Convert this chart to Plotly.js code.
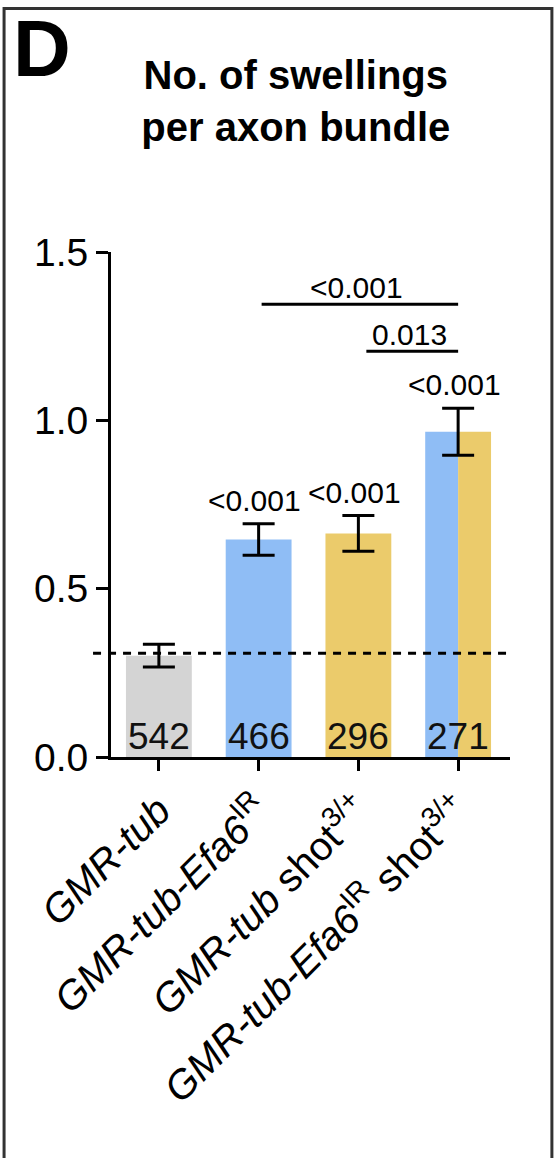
<!DOCTYPE html>
<html>
<head>
<meta charset="utf-8">
<script src="https://cdn.plot.ly/plotly-3.0.1.min.js"></script>
<style>
  html, body { margin: 0; padding: 0; background: #ffffff; }
  #chart { width: 556px; height: 1158px; }
</style>
</head>
<body>
<div id="chart"></div>
<script>
// ---- data ----
const categories = [
  "<i>GMR-tub</i>",
  "<i>GMR-tub-Efa6</i><sup>IR</sup>",
  "<i>GMR-tub</i> shot<sup>3/+</sup>",
  "<i>GMR-tub-Efa6</i><sup>IR</sup> shot<sup>3/+</sup>"
];
const means = [0.301, 0.646, 0.664, 0.966];
const sem = [0.034, 0.047, 0.053, 0.070];
const counts = ["542", "466", "296", "271"];
const pVsControl = ["", "<0.001", "<0.001", "<0.001"];
const controlLevel = 0.308;
const bracketFrom = [1, 2];
const bracketTo = [3, 3];
const bracketLevel = [1.345, 1.205];
const bracketP = ["<0.001", "0.013"];
const yTicks = [0, 0.5, 1.0, 1.5];
const yTickText = ["0.0", "0.5", "1.0", "1.5"];

// ---- styles ----
const FONT = "Arial, 'Liberation Sans', Helvetica, sans-serif";
const GRAY = "#d4d4d4", BLUE = "#8fbdf5", YELLOW = "#ebcb6b";
const barColors = [GRAY, BLUE, YELLOW, BLUE];
const idx = categories.map((_, i) => i);
const BW = 0.66;

const traces = [
  {
    type: "bar", x: idx, y: means,
    width: [BW, BW, BW, BW / 2],
    offset: [-BW / 2, -BW / 2, -BW / 2, -BW / 2],
    marker: { color: barColors, line: { width: 0 } },
    hoverinfo: "none"
  },
  {
    type: "bar", x: [idx[3]], y: [means[3]],
    width: [BW / 2], offset: [0],
    marker: { color: YELLOW, line: { width: 0 } },
    hoverinfo: "none"
  },
  {
    type: "scatter", mode: "markers", x: idx, y: means,
    marker: { size: 1, color: "rgba(0,0,0,0)" },
    error_y: { type: "data", array: sem, visible: true, color: "#000", thickness: 3, width: 16 },
    hoverinfo: "none"
  }
];

const annotations = [];
// counts inside bars
idx.forEach(i => annotations.push({
  x: i, y: 0.062, xref: "x", yref: "y", text: counts[i], showarrow: false,
  xanchor: "center", yanchor: "middle", font: { family: FONT, size: 37, color: "#111" }
}));
// p-values vs control
idx.forEach(i => {
  if (!pVsControl[i]) return;
  annotations.push({
    x: i - 0.04, y: means[i] + sem[i] + 0.07, xref: "x", yref: "y", text: pVsControl[i], showarrow: false,
    xanchor: "center", yanchor: "middle", font: { family: FONT, size: 30, color: "#000" }
  });
});
const shapes = [];
const bracketStartShift = [0.03, 0.08];
bracketFrom.forEach((a, k) => {
  const x0 = a + bracketStartShift[k], x1 = bracketTo[k];
  shapes.push({ type: "line", xref: "x", yref: "y", x0: x0, x1: x1, y0: bracketLevel[k], y1: bracketLevel[k],
    line: { color: "#000", width: 3 } });
  annotations.push({
    x: (x0 + x1) / 2 - 0.03, y: bracketLevel[k] + 0.05, xref: "x", yref: "y", text: bracketP[k], showarrow: false,
    xanchor: "center", yanchor: "middle", font: { family: FONT, size: 30, color: "#000" }
  });
});
// dashed control reference line
shapes.push({ type: "line", xref: "paper", yref: "y", x0: -0.045, x1: 0.992, y0: controlLevel, y1: controlLevel,
  line: { color: "#000", width: 3, dash: "8px,7px" } });
// panel border
shapes.push({ type: "rect", xref: "paper", yref: "paper", x0: -0.268, x1: 1.105, y0: -0.83, y1: 1.482,
  line: { color: "#333", width: 3 }, fillcolor: "rgba(0,0,0,0)", layer: "above" });
// panel letter
annotations.push({ x: -0.173, y: 1.403, xref: "paper", yref: "paper", text: "<b>D</b>", showarrow: false,
  xanchor: "center", yanchor: "middle", font: { family: FONT, size: 80, color: "#000" } });

const layout = {
  width: 556, height: 1158,
  margin: { l: 111, r: 46, t: 252, b: 401, pad: 0 },
  paper_bgcolor: "#fff", plot_bgcolor: "#fff",
  showlegend: false,
  barmode: "overlay",
  font: { family: FONT, color: "#000" },
  title: {
    text: "<b>No. of swellings<br>per axon bundle</b>",
    font: { family: FONT, size: 40, color: "#000" },
    xref: "container", yref: "container", x: 0.532, y: 0.923, xanchor: "center", yanchor: "middle"
  },
  xaxis: {
    range: [-0.48, 3.52], tickmode: "array", tickvals: idx, ticktext: categories,
    tickangle: -45, ticks: "outside", ticklen: 11, tickwidth: 3, tickcolor: "#000",
    showline: true, linecolor: "#000", linewidth: 3, showgrid: false, zeroline: false,
    tickfont: { family: FONT, size: 40, color: "#000" }, fixedrange: true
  },
  yaxis: {
    range: [0, 1.5], tickmode: "array", tickvals: yTicks, ticktext: yTickText,
    ticks: "outside", ticklen: 12, tickwidth: 3, tickcolor: "#000",
    showline: true, linecolor: "#000", linewidth: 3, showgrid: false, zeroline: false,
    tickfont: { family: FONT, size: 39, color: "#000" }, fixedrange: true
  },
  annotations: annotations,
  shapes: shapes
};

Plotly.newPlot("chart", traces, layout, { staticPlot: true, displayModeBar: false });
</script>
</body>
</html>
